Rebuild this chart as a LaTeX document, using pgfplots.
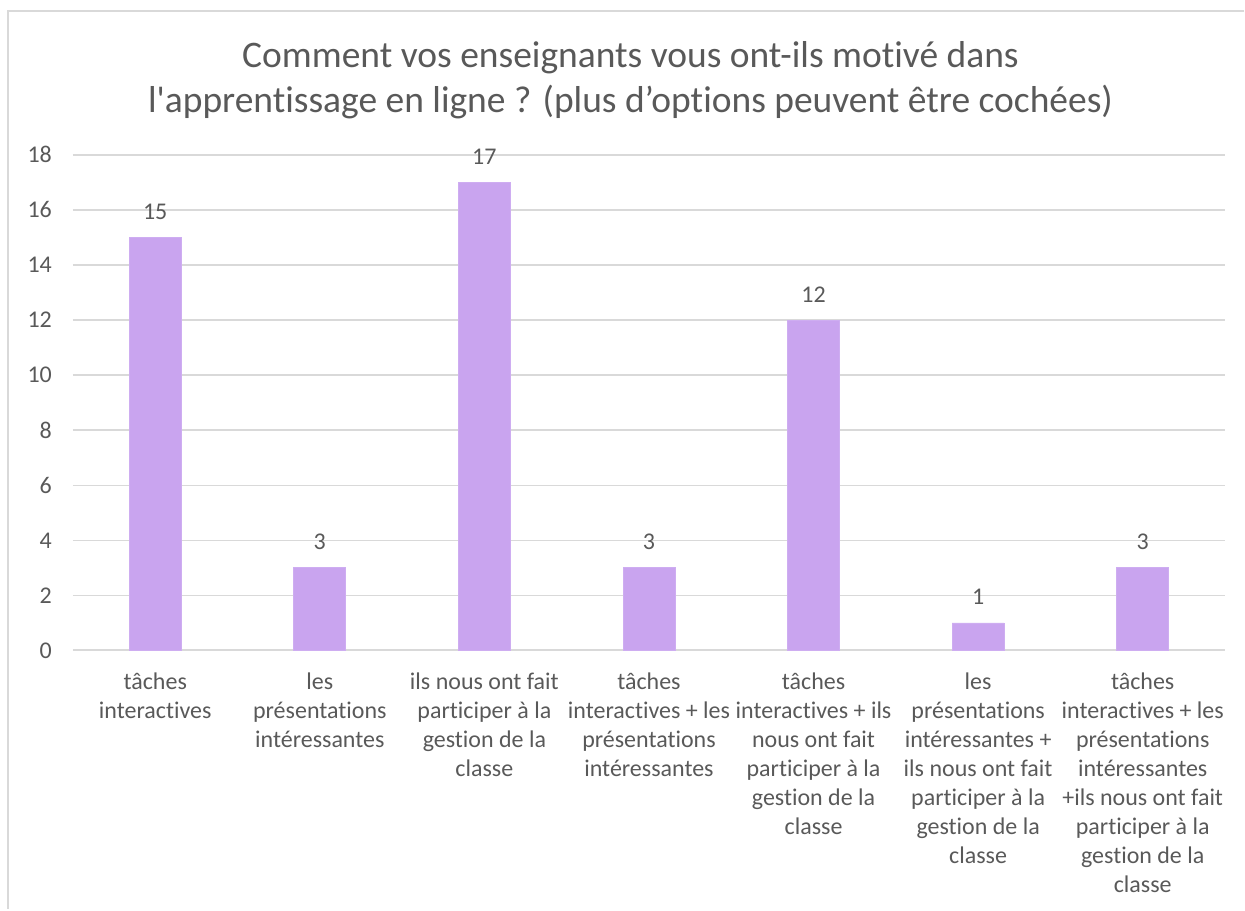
\documentclass[border=0pt]{standalone}
\usepackage{pgfplots}
\pgfplotsset{compat=1.18}
\usepackage{fontspec}
\setmainfont{Carlito}[Ligatures={NoCommon}]
\definecolor{barc}{HTML}{C9A4EF}
\definecolor{txt}{HTML}{595959}
\definecolor{grd}{HTML}{D9D9D9}
\newlength\px
\setlength\px{0.5pt}
\begin{document}
\begin{tikzpicture}
\begin{axis}[name=ax,
  scale only axis, width=1153\px, height=496\px,
  xmin=-0.5, xmax=6.5, ymin=0, ymax=18,
  ybar, bar width=26pt,
  axis line style={draw=none},
  axis x line*=bottom,
  ytick={0,2,...,18},
  ymajorgrids, grid style={grd, line width=1.5\px},
  major tick length=0pt,
  xtick={0,...,6},
  xticklabels={{tâches\\interactives},
    {les\\présentations\\intéressantes},
    {ils nous ont fait\\participer à la\\gestion de la\\classe},
    {tâches\\interactives + les\\présentations\\intéressantes},
    {tâches\\interactives + ils\\nous ont fait\\participer à la\\gestion de la\\classe},
    {les\\présentations\\intéressantes +\\ils nous ont fait\\participer à la\\gestion de la\\classe},
    {tâches\\interactives + les\\présentations\\intéressantes\\+ils nous ont fait\\participer à la\\gestion de la\\classe}},
  xticklabel style={align=center, font=\fontsize{12}{14.5}\selectfont, text=txt, anchor=north, yshift=-15\px},
  yticklabel style={font=\fontsize{12}{14.5}\selectfont, text=txt, xshift=-14\px},
  /pgf/number format/assume math mode=true,
  nodes near coords,
  every node near coord/.append style={font=\fontsize{12}{14.5}\selectfont, text=txt, yshift=11\px},
  extra y ticks={0}, extra y tick labels={},
  extra y tick style={grid style={grd, line width=2\px}},
]
\addplot[fill=barc, draw=barc!90!white] coordinates {(0,15) (1,3) (2,17) (3,3) (4,12) (5,1) (6,3)};
\end{axis}
\draw[grd, line width=2\px] ([xshift=1172\px, yshift=640\px]ax.south west) -- ([xshift=-65\px, yshift=640\px]ax.south west) -- ([xshift=-65\px, yshift=-259\px]ax.south west);
\node[text=txt, align=center, font=\fontsize{18.75}{22.5}\selectfont, anchor=center] at ([xshift=558\px, yshift=571\px]ax.south west) {Comment vos enseignants vous ont-ils motivé dans\\l\textquotesingle apprentissage en ligne ? (plus d’options peuvent être cochées)};
\path[use as bounding box] ([xshift=-73\px, yshift=-259\px]ax.south west) rectangle ([xshift=1172\px, yshift=651\px]ax.south west);
\end{tikzpicture}
\end{document}
